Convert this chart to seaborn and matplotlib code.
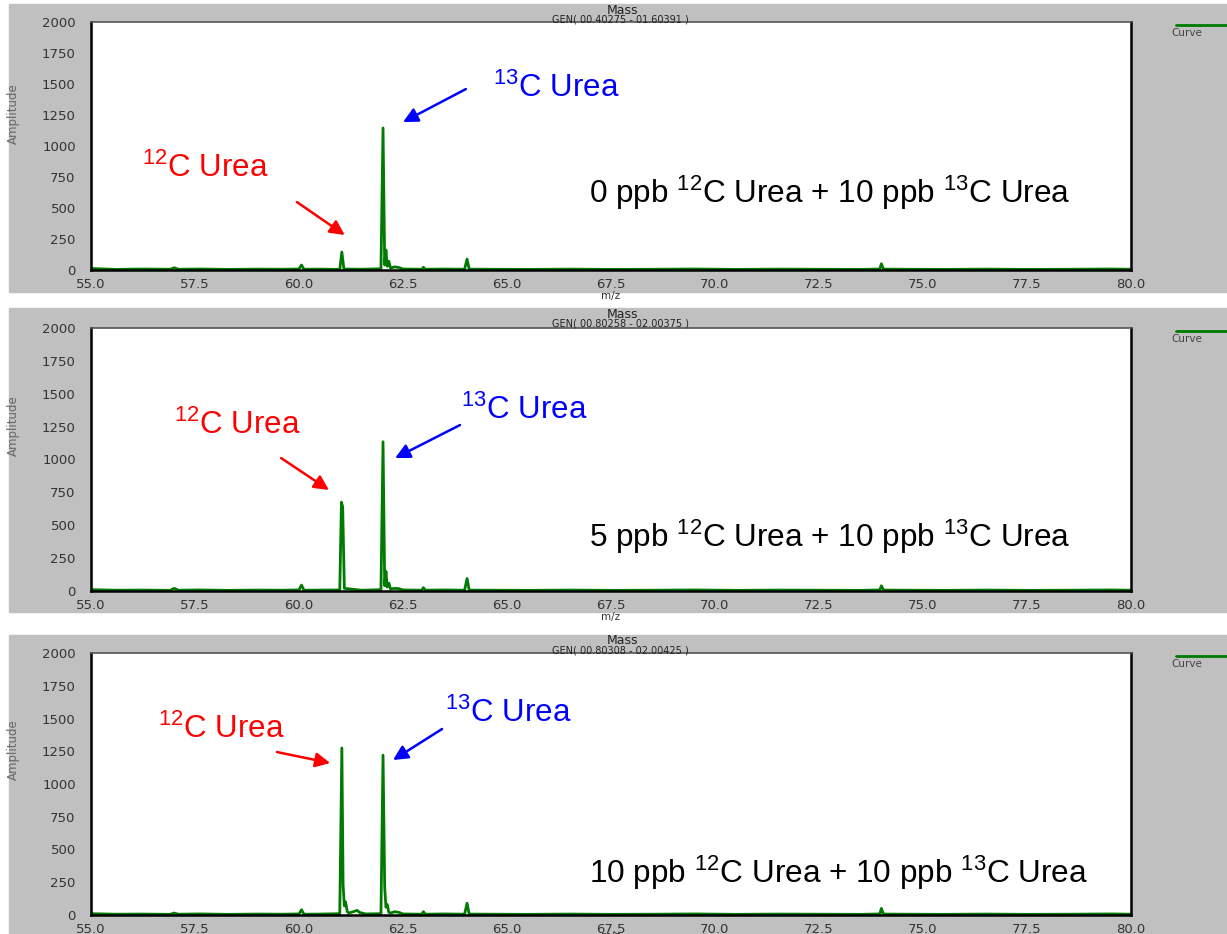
import numpy as np
import pandas as pd
import seaborn as sns
import matplotlib.pyplot as plt
from matplotlib.patches import Rectangle
from matplotlib.lines import Line2D
from matplotlib.ticker import MultipleLocator, FormatStrFormatter

# m/z values and amplitudes
mz_0ppb = [55.0, 55.6, 56.2, 56.9, 57.0, 57.1, 57.6, 58.3, 59.0, 59.6, 60.0, 60.06, 60.12,
           60.5, 60.98, 61.03, 61.08, 61.5, 61.97, 62.02, 62.06, 62.09, 62.12, 62.16, 62.2,
           62.3, 62.4, 62.5, 62.95, 62.99, 63.04, 63.5, 63.98, 64.04, 64.09, 64.6, 65.5,
           66.5, 67.5, 68.5, 69.5, 70.5, 71.5, 72.5, 73.5, 73.96, 74.0, 74.05, 74.6, 75.5,
           76.5, 77.5, 78.5, 79.5, 80.0]
amp_0ppb = [12, 5, 8, 6, 18, 6, 8, 5, 7, 6, 8, 40, 6,
            7, 5, 145, 8, 6, 10, 1145, 40, 160, 30, 70, 15,
            25, 20, 8, 6, 22, 6, 8, 6, 88, 7, 6, 5,
            7, 5, 6, 8, 5, 7, 6, 5, 8, 50, 7, 6, 5,
            7, 5, 6, 8, 6]

mz_5ppb = [55.0, 55.6, 56.2, 56.9, 57.0, 57.1, 57.6, 58.3, 59.0, 59.6, 60.0, 60.06, 60.12,
           60.5, 60.98, 61.02, 61.05, 61.09, 61.5, 61.97, 62.02, 62.06, 62.09, 62.12, 62.16,
           62.2, 62.3, 62.4, 62.5, 62.95, 62.99, 63.04, 63.5, 63.98, 64.04, 64.09, 64.6,
           65.5, 66.5, 67.5, 68.5, 69.5, 70.5, 71.5, 72.5, 73.5, 73.96, 74.0, 74.05, 74.6,
           75.5, 76.5, 77.5, 78.5, 79.5, 80.0]
amp_5ppb = [10, 6, 7, 5, 20, 6, 8, 5, 7, 6, 8, 45, 6,
            7, 8, 676, 640, 20, 6, 10, 1135, 40, 150, 30, 60,
            15, 20, 18, 8, 6, 25, 6, 8, 6, 95, 7, 6,
            5, 7, 5, 6, 8, 5, 7, 6, 5, 8, 40, 7, 6,
            5, 7, 5, 6, 8, 6]

mz_10ppb = [55.0, 55.6, 56.2, 56.9, 57.0, 57.1, 57.6, 58.3, 59.0, 59.6, 60.0, 60.06, 60.12,
            60.5, 60.98, 61.03, 61.06, 61.09, 61.12, 61.16, 61.2, 61.35, 61.4, 61.45, 61.6,
            61.97, 62.02, 62.06, 62.09, 62.12, 62.16, 62.2, 62.3, 62.4, 62.5, 62.95, 62.99,
            63.04, 63.5, 63.98, 64.04, 64.09, 64.6, 65.5, 66.5, 67.5, 68.5, 69.5, 70.5,
            71.5, 72.5, 73.5, 73.96, 74.0, 74.05, 74.6, 75.5, 76.5, 77.5, 78.5, 79.5, 80.0]
amp_10ppb = [10, 6, 7, 5, 15, 6, 8, 5, 7, 6, 8, 40, 6,
             7, 10, 1275, 230, 70, 100, 25, 15, 30, 35, 20, 8,
             10, 1220, 210, 60, 80, 20, 15, 25, 20, 8, 6, 25,
             6, 8, 6, 90, 7, 6, 5, 7, 5, 6, 8, 5,
             7, 6, 5, 8, 50, 7, 6, 5, 7, 5, 6, 8, 6]

spectra = [(mz_0ppb, amp_0ppb), (mz_5ppb, amp_5ppb), (mz_10ppb, amp_10ppb)]
gen_ranges = ["GEN( 00.40275 - 01.60391 )", "GEN( 00.80258 - 02.00375 )",
              "GEN( 00.80308 - 02.00425 )"]
mix_labels = [r"0 ppb $^{12}$C Urea + 10 ppb $^{13}$C Urea",
              r"5 ppb $^{12}$C Urea + 10 ppb $^{13}$C Urea",
              r"10 ppb $^{12}$C Urea + 10 ppb $^{13}$C Urea"]

sns.set_theme(style="white")
plt.rcParams['font.family'] = ['Liberation Sans', 'DejaVu Sans']
plt.rcParams['mathtext.fontset'] = 'custom'
plt.rcParams['mathtext.rm'] = 'Liberation Sans'
plt.rcParams['mathtext.it'] = 'Liberation Sans'

W, H = 1227, 934
fig = plt.figure(figsize=(W / 100, H / 100), dpi=100)


def fx(px):
    return px / W


def fy(py):
    return 1 - py / H


gray = '#c0c0c0'
green = '#007a00'

# pixel layout of each panel: gray box top/bottom, plot top/bottom
panels = [
    dict(gtop=4, gbot=292, top=22, bot=270),
    dict(gtop=308, gbot=612, top=328, bot=591),
    dict(gtop=635, gbot=934, top=653, bot=915),
]

# annotation placements (text centre, arrow tail, arrow head) in data coords
red_notes = [((57.74, 822), (59.95, 548), (61.1, 282)),
             ((58.51, 1262), (59.57, 1011), (60.72, 768)),
             ((58.13, 1420), (59.47, 1244), (60.75, 1160))]
blue_notes = [((66.18, 1467), (64.01, 1459), (62.5, 1193)),
              ((65.41, 1376), (63.87, 1262), (62.31, 1011)),
              ((65.02, 1542), (63.44, 1420), (62.26, 1183))]
mix_y = [620, 410, 321]

for i, p in enumerate(panels):
    fig.patches.append(Rectangle((fx(9), fy(p['gbot'])), 1 - fx(9), fy(p['gtop']) - fy(p['gbot']),
                                 transform=fig.transFigure, color=gray, zorder=0))
    ax = fig.add_axes([fx(91), fy(p['bot']), fx(1131) - fx(91), fy(p['top']) - fy(p['bot'])])
    ax.set_facecolor('white')
    ax.set_zorder(1)

    mz, amp = spectra[i]
    df = pd.DataFrame({'m/z': mz, 'Amplitude': amp})
    sns.lineplot(data=df, x='m/z', y='Amplitude', ax=ax, color=green, linewidth=2,
                 estimator=None, legend=False)

    ax.set_xlim(55, 80)
    ax.set_ylim(0, 2000)
    ax.xaxis.set_major_locator(MultipleLocator(2.5))
    ax.xaxis.set_minor_locator(MultipleLocator(0.5))
    ax.yaxis.set_major_locator(MultipleLocator(250))
    ax.yaxis.set_minor_locator(MultipleLocator(50))
    ax.xaxis.set_major_formatter(FormatStrFormatter('%.1f'))
    ax.tick_params(axis='x', which='major', direction='inout', length=9, width=1.5,
                   color='black', labelsize=9.5, labelcolor='#333333', pad=1)
    ax.tick_params(axis='x', which='minor', direction='in', length=5, width=1, color='#333333')
    ax.tick_params(axis='y', which='major', direction='out', length=10, width=1.2,
                   color='#777777', labelsize=9.5, labelcolor='#333333', pad=1)
    ax.tick_params(axis='y', which='minor', direction='in', length=8, width=1, color='#999999')
    for t in ax.get_xticklabels() + ax.get_yticklabels():
        t.set_family('DejaVu Sans')

    ax.set_xlabel('m/z', fontsize=7.5, color='#333333', labelpad=0 if i < 2 else -3,
                  family='DejaVu Sans')
    ax.set_ylabel('Amplitude', fontsize=8.5, color='#666666', family='DejaVu Sans')
    ax.yaxis.set_label_coords(-0.068, 0.63)

    for s in ['left', 'bottom', 'right']:
        ax.spines[s].set_color('black')
        ax.spines[s].set_linewidth(1.8)
    ax.spines['top'].set_color('#555555')
    ax.spines['top'].set_linewidth(1.2)

    fig.text(fx(623), fy(p['gtop'] + 6), 'Mass', ha='center', va='center', fontsize=9,
             family='DejaVu Sans', color='#222222')
    fig.text(fx(620), fy(p['gtop'] + 15.5), gen_ranges[i], ha='center', va='center',
             fontsize=7, family='DejaVu Sans', color='#222222')

    # legend stub in the right margin
    fig.add_artist(Line2D([fx(1176), fx(1227)], [fy(p['top'] + 3)] * 2,
                          transform=fig.transFigure, color=green, lw=2))
    fig.text(fx(1171), fy(p['top'] + 11), 'Curve', ha='left', va='center', fontsize=7.5,
             family='DejaVu Sans', color='#444444')

    (tx, ty), tail, head = red_notes[i]
    ax.text(tx, ty, r"$^{12}$C Urea", color='red', fontsize=22.5, ha='center', va='center')
    ax.annotate('', xy=head, xytext=tail,
                arrowprops=dict(arrowstyle='-|>', color='red', lw=1.8, mutation_scale=22,
                                shrinkA=0, shrinkB=0))
    (tx, ty), tail, head = blue_notes[i]
    ax.text(tx, ty, r"$^{13}$C Urea", color='blue', fontsize=22.5, ha='center', va='center')
    ax.annotate('', xy=head, xytext=tail,
                arrowprops=dict(arrowstyle='-|>', color='blue', lw=1.8, mutation_scale=22,
                                shrinkA=0, shrinkB=0))
    ax.text(66.97, mix_y[i], mix_labels[i], color='black', fontsize=22.7, ha='left', va='center')

fig.savefig('out.png', dpi=100)
